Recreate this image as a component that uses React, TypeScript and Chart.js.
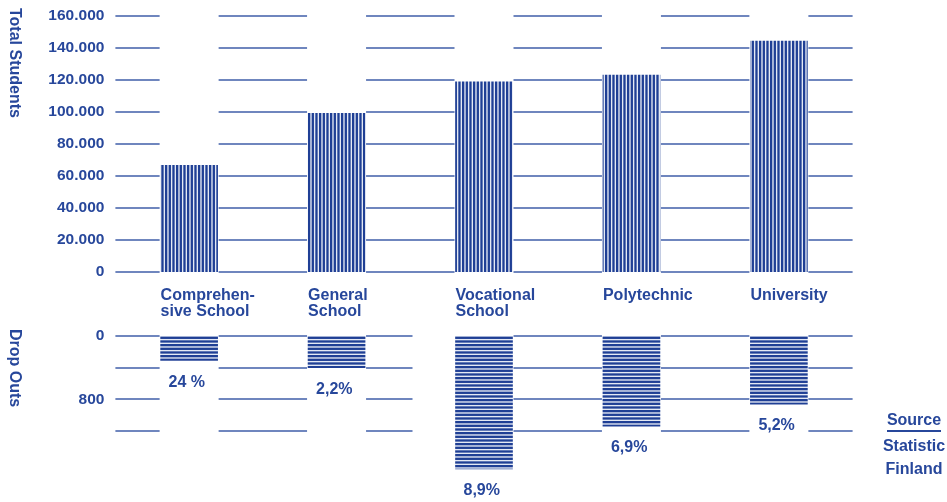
import React, { useEffect, useRef } from "react";
import { Chart, registerables } from "chart.js";

Chart.register(...registerables);

// ---------- data ----------
const categories: (string | string[])[] = [
  ["Comprehen-", "sive School"],
  ["General", "School"],
  ["Vocational", "School"],
  "Polytechnic",
  "University",
];
const totalStudents = [66700, 99200, 118900, 123100, 144400];
const dropOuts = [310, 400, 1680, 1140, 860];
const dropOutRates = ["24 %", "2,2%", "8,9%", "6,9%", "5,2%"];
const studentGridValues = [0, 20000, 40000, 60000, 80000, 100000, 120000, 140000, 160000];
const dropOutGridValues = [0, 400, 800, 1200];
const dropOutTickLabels = [0, 800];
const axisTitles = ["Total Students", "Drop Outs"];
const sourceNote = ["Source", "Statistic", "Finland"];

// ---------- styles ----------
const FONT = '"Liberation Sans", Arial, Helvetica, sans-serif';
const TEXT = "#27479b";
const BAR = "#1f3f95";
const GRID = "#3f5ea9";
const BAR_W = 57;

function stripePattern(vertical: boolean): CanvasPattern | string {
  const c = document.createElement("canvas");
  c.width = 11;
  c.height = 11;
  const g = c.getContext("2d");
  if (!g) return BAR;
  g.fillStyle = "#e4e9f4";
  g.fillRect(0, 0, 11, 11);
  g.fillStyle = BAR;
  for (let k = 0; k < 3; k++) {
    const p = (k * 11) / 3;
    if (vertical) g.fillRect(p, 0, 2.3, 11);
    else g.fillRect(0, p, 11, 2.3);
  }
  const pat = g.createPattern(c, "repeat");
  return pat || BAR;
}

function fmt(v: number): string {
  return String(v).replace(/\B(?=(\d{3})+(?!\d))/g, ".");
}

function gridPlugin(id: string, values: number[], extraGapLeft: number[]) {
  return {
    id,
    beforeDatasetsDraw(chart: any) {
      const ctx = chart.ctx as CanvasRenderingContext2D;
      const area = chart.chartArea;
      const y = chart.scales.y;
      const meta = chart.getDatasetMeta(0);
      const gaps = meta.data
        .map((b: any, i: number) => [b.x - b.width / 2 - 1 - (extraGapLeft[i] || 0), b.x + b.width / 2 + 1])
        .sort((a: number[], b: number[]) => a[0] - b[0]);
      ctx.save();
      ctx.strokeStyle = GRID;
      ctx.lineWidth = 1.6;
      values.forEach((v) => {
        const py = Math.round(y.getPixelForValue(v));
        let x0 = area.left;
        const segs: number[][] = [];
        gaps.forEach((g: number[]) => {
          if (g[0] > x0) segs.push([x0, g[0]]);
          x0 = Math.max(x0, g[1]);
        });
        if (x0 < area.right) segs.push([x0, area.right]);
        segs.forEach((s) => {
          ctx.beginPath();
          ctx.moveTo(s[0], py);
          ctx.lineTo(s[1], py);
          ctx.stroke();
        });
      });
      ctx.restore();
    },
  };
}

function verticalTitle(id: string, text: string, x: number, y: number) {
  return {
    id,
    afterDraw(chart: any) {
      const ctx = chart.ctx as CanvasRenderingContext2D;
      ctx.save();
      ctx.translate(x, y);
      ctx.rotate(Math.PI / 2);
      ctx.font = `bold 16px ${FONT}`;
      ctx.fillStyle = TEXT;
      ctx.textAlign = "left";
      ctx.textBaseline = "alphabetic";
      ctx.fillText(text, 0, 0);
      ctx.restore();
    },
  };
}

const rateLabels = {
  id: "rateLabels",
  afterDatasetsDraw(chart: any) {
    const ctx = chart.ctx as CanvasRenderingContext2D;
    const meta = chart.getDatasetMeta(0);
    ctx.save();
    ctx.font = `bold 16px ${FONT}`;
    ctx.fillStyle = TEXT;
    ctx.textAlign = "left";
    ctx.textBaseline = "alphabetic";
    meta.data.forEach((b: any, i: number) => {
      ctx.fillText(dropOutRates[i], b.x - b.width / 2 + 8, b.y + 26);
    });
    ctx.restore();
  },
};

const sourcePlugin = {
  id: "sourceNote",
  afterDraw(chart: any) {
    const ctx = chart.ctx as CanvasRenderingContext2D;
    const cx = 914;
    ctx.save();
    ctx.font = `bold 16px ${FONT}`;
    ctx.fillStyle = TEXT;
    ctx.textAlign = "center";
    ctx.textBaseline = "alphabetic";
    ctx.fillText(sourceNote[0], cx, 103);
    ctx.fillText(sourceNote[1], cx, 129);
    ctx.fillText(sourceNote[2], cx, 152);
    ctx.strokeStyle = TEXT;
    ctx.lineWidth = 2;
    ctx.beginPath();
    ctx.moveTo(887, 109);
    ctx.lineTo(941, 109);
    ctx.stroke();
    ctx.restore();
  },
};

export default function App() {
  const topRef = useRef<HTMLCanvasElement>(null);
  const botRef = useRef<HTMLCanvasElement>(null);

  useEffect(() => {
    const tickFont = { family: FONT, size: 15.5, weight: "bold" as const, lineHeight: 1 };
    const top = new Chart(topRef.current as HTMLCanvasElement, {
      type: "bar",
      data: {
        labels: categories as any,
        datasets: [
          {
            data: totalStudents,
            backgroundColor: stripePattern(true) as any,
            borderWidth: 0,
            barThickness: BAR_W,
            base: -3100,
          } as any,
        ],
      },
      options: {
        responsive: false,
        animation: false,
        layout: { padding: { left: 0, right: 94.4, top: 16, bottom: 0 } },
        plugins: { legend: { display: false }, tooltip: { enabled: false } },
        scales: {
          x: {
            grid: { display: false, drawTicks: false },
            border: { display: false },
            ticks: {
              align: "start",
              labelOffset: -BAR_W / 2,
              padding: 16,
              color: TEXT,
              maxRotation: 0,
              autoSkip: false,
              font: { family: FONT, size: 16, weight: "bold", lineHeight: 1 },
            },
            afterFit: (s: any) => {
              s.height = 50;
            },
          } as any,
          y: {
            min: 0,
            max: 160000,
            grid: { display: false, tickLength: 11 },
            border: { display: false },
            ticks: {
              stepSize: 20000,
              padding: 0,
              color: TEXT,
              font: tickFont,
              callback: (v: any) => fmt(Number(v)),
            },
            afterFit: (s: any) => {
              s.width = 115.4;
            },
          } as any,
        },
      },
      plugins: [
        gridPlugin("gridTop", studentGridValues, [0, 0, 0, 0, 0]),
        verticalTitle("titleTop", axisTitles[0], 10, 8),
      ],
    });

    const bot = new Chart(botRef.current as HTMLCanvasElement, {
      type: "bar",
      data: {
        labels: categories as any,
        datasets: [
          {
            data: dropOuts,
            backgroundColor: stripePattern(false) as any,
            borderWidth: 0,
            barThickness: BAR_W,
          } as any,
        ],
      },
      options: {
        responsive: false,
        animation: false,
        layout: { padding: { left: 0, right: 94.4, top: 14, bottom: 6 } },
        plugins: { legend: { display: false }, tooltip: { enabled: false } },
        scales: {
          x: { display: false } as any,
          y: {
            reverse: true,
            min: 0,
            max: 2000,
            grid: { display: false, tickLength: 11 },
            border: { display: false },
            ticks: {
              stepSize: 400,
              padding: 0,
              color: TEXT,
              font: tickFont,
              callback: (v: any) => (dropOutTickLabels.includes(Number(v)) ? String(v) : null),
            },
            afterFit: (s: any) => {
              s.width = 115.4;
            },
          } as any,
        },
      },
      plugins: [
        gridPlugin("gridBot", dropOutGridValues, [0, 0, 42, 0, 0]),
        rateLabels,
        sourcePlugin,
        verticalTitle("titleBot", axisTitles[1], 10, 7),
      ],
    });

    return () => {
      top.destroy();
      bot.destroy();
    };
  }, []);

  return (
    <div style={{ position: "absolute", left: 0, top: 0, width: 947, height: 502, background: "#fff" }}>
      <canvas ref={topRef} width={947} height={322} style={{ position: "absolute", left: 0, top: 0 }} />
      <canvas ref={botRef} width={947} height={180} style={{ position: "absolute", left: 0, top: 322 }} />
    </div>
  );
}
